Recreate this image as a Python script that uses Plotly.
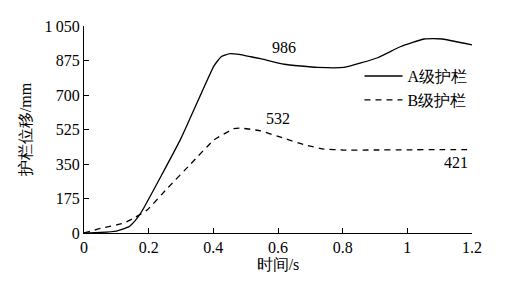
import plotly.graph_objects as go

# Data
t_a = [0, 0.05, 0.10, 0.138, 0.159, 0.18, 0.30, 0.402, 0.425, 0.451, 0.48, 0.516, 0.546, 0.619, 0.722, 0.804, 0.908, 0.98, 1.052, 1.08, 1.109, 1.2]
disp_a = [0, 3, 10, 31, 64, 113, 480, 848, 895, 910, 906, 894, 884, 856, 840, 840, 889, 946, 984, 986, 984, 954]

t_b = [0, 0.051, 0.123, 0.159, 0.196, 0.258, 0.33, 0.402, 0.464, 0.485, 0.546, 0.619, 0.68, 0.742, 0.8, 0.9, 1.0, 1.1, 1.2]
disp_b = [0, 23, 50, 80, 118, 227, 350, 472, 529, 532, 518, 480, 448, 426, 421, 421, 422, 423, 423]

y_ticks = [0, 175, 350, 525, 700, 875, 1050]
y_tick_text = ["0", "175", "350", "525", "700", "875", "1\u2009050"]
x_ticks = [0, 0.2, 0.4, 0.6, 0.8, 1.0, 1.2]
x_tick_text = ["0", "0.2", "0.4", "0.6", "0.8", "1", "1.2"]

names = ["A级护栏", "B级护栏"]
annot_text = ["986", "532", "421"]
annot_x = [0.62, 0.6, 1.15]
annot_y = [940, 580, 360]

FONT = "Liberation Serif"

fig = go.Figure()
fig.add_trace(go.Scatter(x=t_a, y=disp_a, mode="lines", name=names[0],
                         line=dict(color="black", width=1.3, shape="spline", smoothing=0.4)))
fig.add_trace(go.Scatter(x=t_b, y=disp_b, mode="lines", name=names[1],
                         line=dict(color="black", width=1.3, dash="6px,5px", shape="spline", smoothing=0.4)))

for txt, ax, ay in zip(annot_text, annot_x, annot_y):
    fig.add_annotation(x=ax, y=ay, text=txt, showarrow=False,
                       font=dict(family=FONT, size=16, color="black"))

fig.update_layout(
    width=530, height=287,
    margin=dict(l=76, r=66, t=10, b=62),
    paper_bgcolor="white", plot_bgcolor="white",
    font=dict(family=FONT, size=16, color="black"),
    showlegend=True,
    legend=dict(x=0.71, y=0.84, xanchor="left", yanchor="top",
                bgcolor="rgba(0,0,0,0)", font=dict(family=FONT, size=16, color="black"),
                itemwidth=38, tracegroupgap=0),
    xaxis=dict(range=[0, 1.2], tickvals=x_ticks, ticktext=x_tick_text,
               showgrid=False, zeroline=False, showline=True, linecolor="black", linewidth=1,
               ticks="inside", ticklen=5, tickcolor="black",
               tickfont=dict(family=FONT, size=16, color="black"),
               title=dict(text="时间/s", standoff=2, font=dict(family=FONT, size=16, color="black"))),
    yaxis=dict(range=[0, 1050], tickvals=y_ticks, ticktext=y_tick_text,
               showgrid=False, zeroline=False, showline=True, linecolor="black", linewidth=1,
               ticks="inside", ticklen=5, tickcolor="black",
               tickfont=dict(family=FONT, size=16, color="black"),
               title=dict(text="护栏位移/mm", standoff=8, font=dict(family=FONT, size=16, color="black"))),
)

fig.write_html("out.html")
